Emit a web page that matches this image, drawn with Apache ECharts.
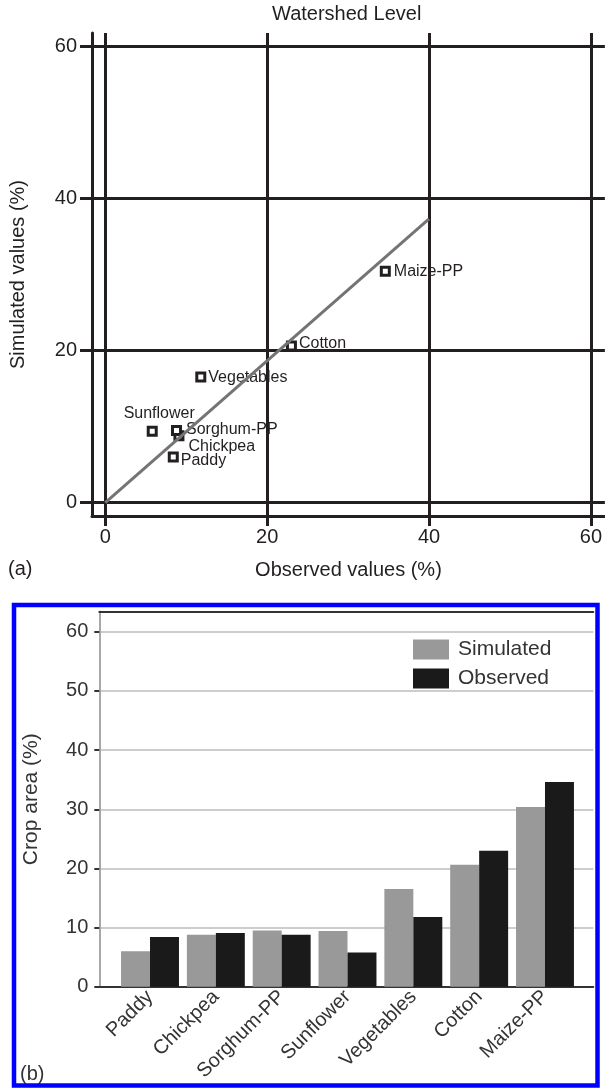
<!DOCTYPE html>
<html>
<head>
<meta charset="utf-8">
<script src="https://cdn.jsdelivr.net/npm/echarts@6/dist/echarts.min.js"></script>
<style>
  html, body { margin: 0; padding: 0; background: #fff; }
  #chart { width: 605px; height: 1090px; }
</style>
</head>
<body>
<div id="chart"></div>
<script>
// Crop area shares at watershed level (%)
const crops = ['Paddy', 'Chickpea', 'Sorghum-PP', 'Sunflower', 'Vegetables', 'Cotton', 'Maize-PP'];
const simulated = [6.0, 8.8, 9.5, 9.4, 16.5, 20.6, 30.4];
const observed = [8.4, 9.1, 8.8, 5.8, 11.8, 23.0, 34.6];
// Fitted line through the scatter (observed -> simulated)
const fitLine = [[0, 0], [40, 37.3]];
// Tick values
const scatterTicks = [0, 20, 40, 60];
const barTicks = [0, 10, 20, 30, 40, 50, 60];

// Where each point label sits relative to its marker
const labelPlacement = {
  'Paddy':      { position: 'right', distance: 2, offset: [0, 4] },
  'Chickpea':   { position: 'right', distance: 4, offset: [0, 11] },
  'Sorghum-PP': { position: 'right', distance: 4, offset: [0, -1] },
  'Sunflower':  { position: 'top',   distance: 4, offset: [7, 0] },
  'Vegetables': { position: 'right', distance: 2, offset: [0, 0] },
  'Cotton':     { position: 'right', distance: 2, offset: [0, -2] },
  'Maize-PP':   { position: 'right', distance: 3, offset: [0, 0] }
};

const INK = '#231f20';
const FONT = "'Liberation Sans', Arial, Helvetica, sans-serif";

const scatterData = crops.map((name, i) => ({
  name: name,
  value: [observed[i], simulated[i]],
  label: Object.assign({ show: true, formatter: '{b}' }, labelPlacement[name])
}));

const chart = echarts.init(document.getElementById('chart'), null, { renderer: 'canvas' });

chart.setOption({
  animation: false,
  backgroundColor: '#fff',
  textStyle: { fontFamily: FONT },
  title: [
    { text: 'Watershed Level', left: 272, top: 4, padding: 0,
      textStyle: { fontSize: 20, fontWeight: 'normal', color: INK, fontFamily: FONT } },
    { text: '(a)', left: 8, top: 559, padding: 0,
      textStyle: { fontSize: 20, fontWeight: 'normal', color: INK, fontFamily: FONT } },
    { text: '(b)', left: 20, top: 1064, padding: 0,
      textStyle: { fontSize: 20, fontWeight: 'normal', color: '#333', fontFamily: FONT } }
  ],
  legend: {
    data: ['Simulated', 'Observed'],
    orient: 'vertical',
    left: 413, top: 639,
    padding: 0,
    itemWidth: 36, itemHeight: 20, itemGap: 8,
    icon: 'rect',
    textStyle: { fontSize: 21, color: '#333', fontFamily: FONT, padding: [0, 0, 0, 4] }
  },
  graphic: [
    { type: 'rect', shape: { x: 14, y: 605, width: 583.5, height: 480.5 },
      style: { fill: 'none', stroke: '#0000ff', lineWidth: 4.5 }, z: 100 }
  ],
  grid: [
    { left: 91.7, top: 33, right: 0, bottom: 574 },
    { left: 99.3, top: 611.7, right: 11.7, bottom: 103.3 },
    { left: 117.1, top: 611.7, right: 27.1, bottom: 103.3 }
  ],
  xAxis: [
    { // scatter: observed values
      gridIndex: 0, type: 'value', min: -1.642, max: 61.73,
      name: 'Observed values (%)', nameLocation: 'middle', nameGap: 44,
      nameTextStyle: { fontSize: 20, color: INK, fontFamily: FONT },
      axisLine: { show: true, onZero: false, lineStyle: { color: INK, width: 3 } },
      axisTick: { show: true, customValues: scatterTicks, length: 10, lineStyle: { color: INK, width: 3 } },
      axisLabel: { customValues: scatterTicks, fontSize: 20, color: INK, margin: 11 },
      splitLine: { show: true, lineStyle: { color: INK, width: 3 } }
    },
    { // bar frame, bottom edge
      gridIndex: 1, type: 'value', min: 0, max: 1, position: 'bottom',
      axisLine: { show: true, onZero: false, lineStyle: { color: '#333', width: 2 } },
      axisTick: { show: false }, axisLabel: { show: false }, splitLine: { show: false }
    },
    { // bar frame, top edge
      gridIndex: 1, type: 'value', min: 0, max: 1, position: 'top',
      axisLine: { show: true, onZero: false, lineStyle: { color: '#333', width: 2 } },
      axisTick: { show: false }, axisLabel: { show: false }, splitLine: { show: false }
    },
    { // bar categories
      gridIndex: 2, type: 'category', data: crops,
      axisLine: { show: false }, axisTick: { show: false },
      axisLabel: { rotate: 45, fontSize: 20, color: '#333', margin: 7, interval: 0 }
    }
  ],
  yAxis: [
    { // scatter: simulated values
      gridIndex: 0, type: 'value', min: -1.747, max: 61.71,
      name: 'Simulated values (%)', nameLocation: 'middle', nameGap: 64, nameRotate: 90,
      nameTextStyle: { fontSize: 20, color: INK, fontFamily: FONT },
      axisLine: { show: true, onZero: false, lineStyle: { color: INK, width: 3 } },
      axisTick: { show: true, customValues: scatterTicks, length: 12, lineStyle: { color: INK, width: 3 } },
      axisLabel: { customValues: scatterTicks, fontSize: 20, color: INK, margin: 15 },
      splitLine: { show: true, lineStyle: { color: INK, width: 3 } }
    },
    { // bar frame, left value axis
      gridIndex: 1, type: 'value', min: 0, max: 63.4, interval: 10,
      name: 'Crop area (%)', nameLocation: 'middle', nameGap: 58, nameRotate: 90,
      nameTextStyle: { fontSize: 21, color: '#333', fontFamily: FONT },
      axisLine: { show: true, lineStyle: { color: '#333', width: 2 } },
      axisTick: { show: true, customValues: barTicks, length: 5, lineStyle: { color: '#333', width: 2 } },
      axisLabel: { customValues: barTicks, fontSize: 20, color: '#333', margin: 11 },
      splitLine: { show: true, lineStyle: { color: '#bdbdbd', width: 1.5 } }
    },
    { // bar frame, right edge
      gridIndex: 1, type: 'value', min: 0, max: 63.4, position: 'right',
      axisLine: { show: true, lineStyle: { color: '#a8a8a8', width: 2 } },
      axisTick: { show: false }, axisLabel: { show: false }, splitLine: { show: false }
    },
    { // bars share the frame's scale
      gridIndex: 2, type: 'value', min: 0, max: 63.4, show: false
    }
  ],
  series: [
    {
      type: 'scatter', name: 'points', xAxisIndex: 0, yAxisIndex: 0,
      symbol: 'rect', symbolSize: 8,
      itemStyle: { color: '#fff', borderColor: INK, borderWidth: 3, opacity: 1 },
      label: { fontSize: 16, color: INK, fontFamily: FONT },
      data: scatterData, z: 3
    },
    {
      type: 'line', name: 'fit', xAxisIndex: 0, yAxisIndex: 0,
      showSymbol: false, symbol: 'none',
      lineStyle: { color: '#747474', width: 3 },
      data: fitLine, z: 4
    },
    {
      type: 'bar', name: 'Simulated', xAxisIndex: 3, yAxisIndex: 3,
      data: simulated, barGap: '0%', barCategoryGap: '12%',
      itemStyle: { color: '#999999' }
    },
    {
      type: 'bar', name: 'Observed', xAxisIndex: 3, yAxisIndex: 3,
      data: observed, barGap: '0%', barCategoryGap: '12%',
      itemStyle: { color: '#1a1a1a' }
    }
  ]
});
</script>
</body>
</html>
